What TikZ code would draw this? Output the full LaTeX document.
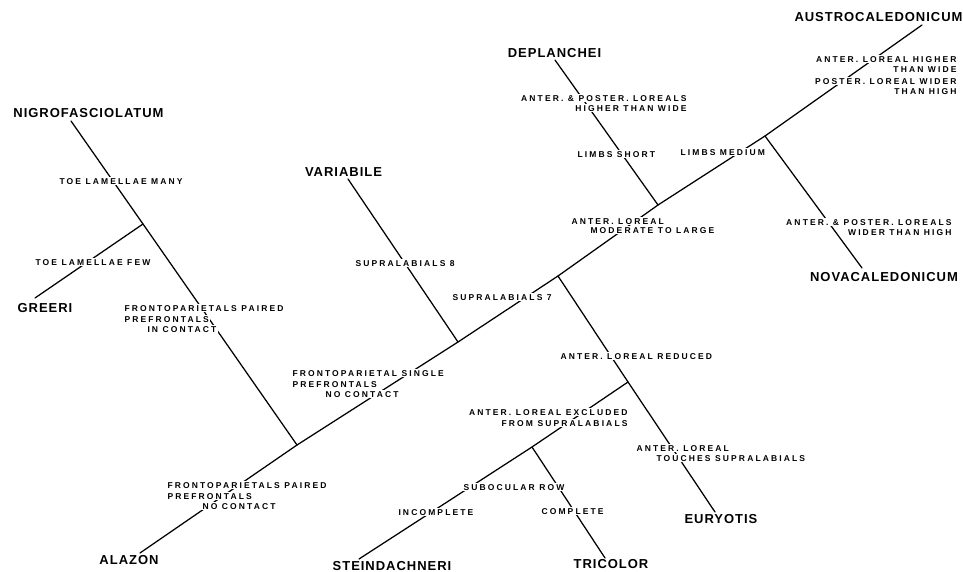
\documentclass[tikz,border=0pt]{standalone}
\usepackage{fontspec}
\setmainfont{Liberation Sans}
\newfontfamily\taxfont[LetterSpace=7.5]{Liberation Sans}
\newfontfamily\labfont[LetterSpace=25]{Liberation Sans}
\tikzset{
  taxon/.style={font=\taxfont\bfseries\fontsize{13}{13}\selectfont, inner sep=0pt, text height=9.3pt, text depth=0pt},
  elab/.style={font=\labfont\bfseries\fontsize{8.5}{8.5}\selectfont, fill=white, inner sep=1.3pt, text height=6.1pt, text depth=0pt},
  branch/.style={line width=1.25pt, line cap=round}
}
\begin{document}
\begin{tikzpicture}[x=1pt,y=-1pt]
\fill[white] (0,0) rectangle (963,572);
\useasboundingbox (0,0) rectangle (963,572);

% taxa
\node[taxon] (nigro) at (88.5,113) {NIGROFASCIOLATUM};
\node[taxon] (greeri) at (45,308) {GREERI};
\node[taxon] (alazon) at (129,560) {ALAZON};
\node[taxon] (variabile) at (343.5,172) {VARIABILE};
\node[taxon] (stein) at (392,565.5) {STEINDACHNERI};
\node[taxon] (tricolor) at (611,564) {TRICOLOR};
\node[taxon] (euryotis) at (721,519) {EURYOTIS};
\node[taxon] (deplanchei) at (554.5,53) {DEPLANCHEI};
\node[taxon] (austro) at (878.5,17) {AUSTROCALEDONICUM};
\node[taxon] (novac) at (884,277) {NOVACALEDONICUM};

% junctions
\coordinate (jr) at (297,445);
\coordinate (jg) at (143,224);
\coordinate (jv) at (458,342);
\coordinate (js) at (558,276);
\coordinate (jd) at (658,205);
\coordinate (jl) at (765,136);
\coordinate (jx) at (628,382);
\coordinate (jb) at (532,447);

% free ends of branches, next to the taxon names
\coordinate (alazonE) at (140,553);
\coordinate (nigroE) at (71,121);
\coordinate (greeriE) at (35,298);
\coordinate (varE) at (348,179);
\coordinate (euryE) at (715,512);
\coordinate (steinE) at (359,559);
\coordinate (triE) at (605,558);
\coordinate (deplE) at (555,60);
\coordinate (novaE) at (862,268);
\coordinate (austroE) at (922,25);

% branches
\draw[branch] (alazonE) -- (jr) -- (jv) -- (js) -- (jd) -- (jl) -- (austroE);
\draw[branch] (jr) -- (jg) -- (nigroE);
\draw[branch] (jg) -- (greeriE);
\draw[branch] (jv) -- (varE);
\draw[branch] (js) -- (jx) -- (euryE);
\draw[branch] (jx) -- (jb) -- (steinE);
\draw[branch] (jb) -- (triE);
\draw[branch] (jd) -- (deplE);
\draw[branch] (jl) -- (novaE);

% character labels
\node[elab, anchor=west] (e1) at (58,181) {TOE LAMELLAE MANY};
\node[elab, anchor=west] (e2) at (34,262) {TOE LAMELLAE FEW};
\node[elab, anchor=west] (e3a) at (123,308) {FRONTOPARIETALS PAIRED};
\node[elab, anchor=west] (e3b) at (123,319) {PREFRONTALS};
\node[elab, anchor=west] (e3c) at (146,329) {IN CONTACT};
\node[elab, anchor=west] (e4a) at (291,373) {FRONTOPARIETAL SINGLE};
\node[elab, anchor=west] (e4b) at (291,384) {PREFRONTALS};
\node[elab, anchor=west] (e4c) at (324,394) {NO CONTACT};
\node[elab, anchor=west] (e5) at (354,263) {SUPRALABIALS 8};
\node[elab, anchor=west] (e6) at (451,297) {SUPRALABIALS 7};
\node[elab, anchor=west] (e7a) at (166,485) {FRONTOPARIETALS PAIRED};
\node[elab, anchor=west] (e7b) at (166,496) {PREFRONTALS};
\node[elab, anchor=west] (e7c) at (201,506) {NO CONTACT};
\node[elab, anchor=west] (e8) at (559,356) {ANTER. LOREAL REDUCED};
\node[elab, anchor=east] (e9a) at (629,412) {ANTER. LOREAL EXCLUDED};
\node[elab, anchor=east] (e9b) at (629,423) {FROM SUPRALABIALS};
\node[elab, anchor=west] (e10) at (462,487) {SUBOCULAR ROW};
\node[elab, anchor=west] (e11) at (397,512) {INCOMPLETE};
\node[elab, anchor=west] (e12) at (540,511) {COMPLETE};
\node[elab, anchor=west] (e13a) at (635,448) {ANTER. LOREAL};
\node[elab, anchor=west] (e13b) at (655,458) {TOUCHES SUPRALABIALS};
\node[elab, anchor=east] (e14a) at (688,98) {ANTER. \& POSTER. LOREALS};
\node[elab, anchor=east] (e14b) at (688,108) {HIGHER THAN WIDE};
\node[elab, anchor=west] (e15) at (576,154) {LIMBS SHORT};
\node[elab, anchor=west] (e16) at (679,152) {LIMBS MEDIUM};
\node[elab, anchor=west] (e17a) at (570,221) {ANTER. LOREAL};
\node[elab, anchor=west] (e17b) at (589,230) {MODERATE TO LARGE};
\node[elab, anchor=east] (e18a) at (958,59) {ANTER. LOREAL HIGHER};
\node[elab, anchor=east] (e18b) at (958,69) {THAN WIDE};
\node[elab, anchor=east] (e18c) at (958,81) {POSTER. LOREAL WIDER};
\node[elab, anchor=east] (e18d) at (958,91) {THAN HIGH};
\node[elab, anchor=east] (e19a) at (953,222) {ANTER. \& POSTER. LOREALS};
\node[elab, anchor=east] (e19b) at (953,232) {WIDER THAN HIGH};
\end{tikzpicture}
\end{document}
